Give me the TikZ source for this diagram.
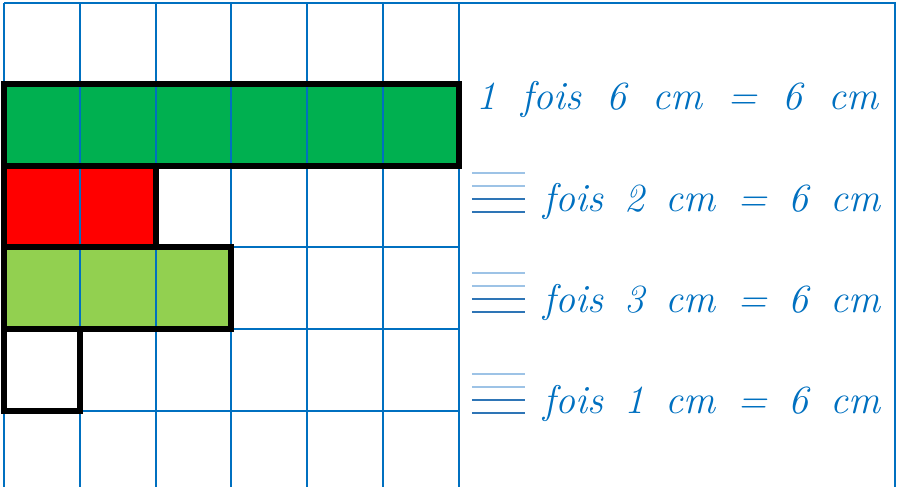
\documentclass[tikz,border=0pt]{standalone}
\usepackage{xcolor}
\usepackage{tikz}
\definecolor{gridblue}{HTML}{0070C0}
\definecolor{bargreen}{HTML}{00B050}
\definecolor{barred}{HTML}{FF0000}
\definecolor{barlime}{HTML}{92D050}
\definecolor{rulelight}{HTML}{9DC3E6}
\definecolor{ruledark}{HTML}{2E75B6}

\begin{document}
\begin{tikzpicture}[
    x=75.8pt, y=-81.6pt,
    gridline/.style={draw=gridblue, line width=2pt},
    barline/.style={draw=black, line width=6pt, line join=miter},
    blanklight/.style={draw=rulelight, line width=1.5pt},
    blankdark/.style={draw=ruledark, line width=1.5pt},
    sentence/.style={text=gridblue, inner sep=0pt, anchor=base west,
                     font=\fontsize{40}{44}\selectfont\itshape}
]
\useasboundingbox (-0.0528,-0.0306) rectangle (11.781,5.9375);

% coloured bars
\foreach \n/\c [count=\r] in {6/bargreen, 2/barred, 3/barlime, 1/white}
    \fill[\c] (0,\r) rectangle (\n,\r+1);

% squared paper and frame
\foreach \i in {0,...,6}
    \draw[gridline] (\i,0.01) -- (\i,5.9375);
\foreach \j in {0.01,1,2,3,4,5}
    \draw[gridline] (0,\j) -- (6,\j);
\draw[gridline] (6,0.01) -- (11.755,0.01) -- (11.755,5.9375);

% black outlines
\foreach \n [count=\r] in {6,2,3,1}
    \draw[barline] (0,\r) rectangle (\n,\r+1);

% sentences
\node[sentence] (s1) at (6.227,1.317) {\makebox[402pt][s]{1 fois 6 cm = 6 cm}};
\node[sentence] (s2) at (7.111,2.567) {\makebox[337pt][s]{fois 2 cm = 6 cm}};
\node[sentence] (s3) at (7.111,3.793) {\makebox[337pt][s]{fois 3 cm = 6 cm}};
\node[sentence] (s4) at (7.111,5.031) {\makebox[337pt][s]{fois 1 cm = 6 cm}};

% blanks to fill in
\foreach \b in {2.567,3.793,5.031} {
    \draw[blanklight] (6.174,\b-0.478) -- (6.873,\b-0.478);
    \draw[blanklight] (6.174,\b-0.319) -- (6.873,\b-0.319);
    \draw[blankdark] (6.174,\b-0.159) -- (6.873,\b-0.159);
    \draw[blankdark] (6.174,\b) -- (6.873,\b);
}
\end{tikzpicture}
\end{document}
